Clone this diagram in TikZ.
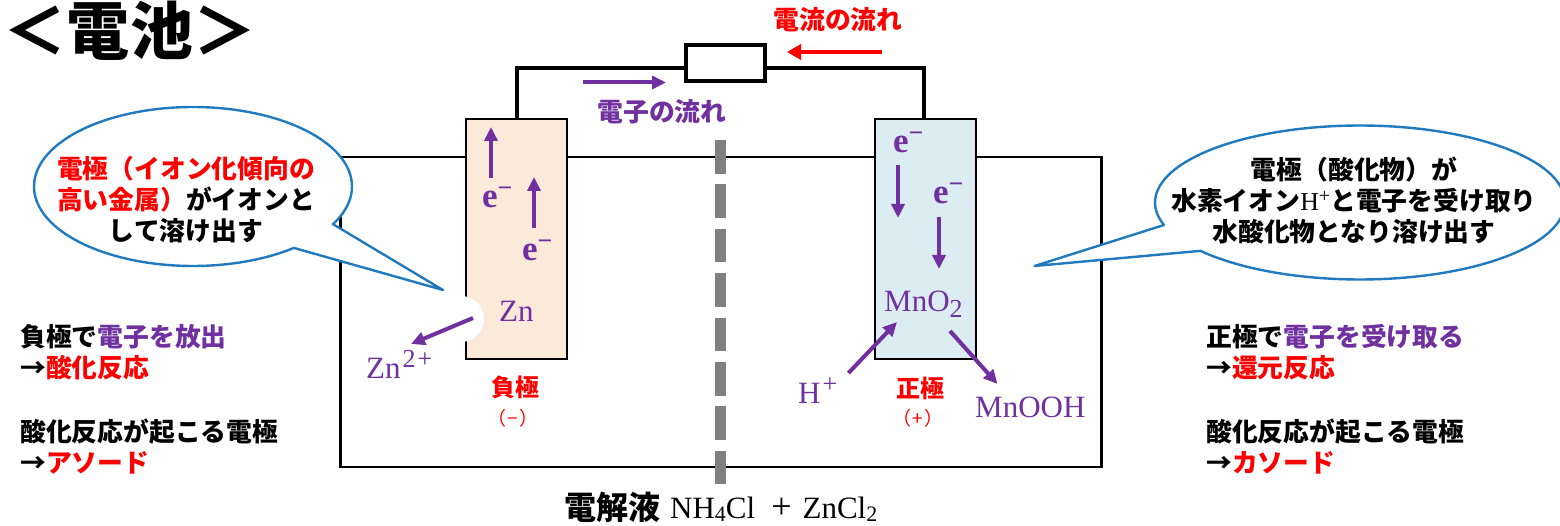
\documentclass[tikz,border=0pt]{standalone}
\usepackage{fontspec}
\setmainfont{Noto Sans CJK JP}
\newfontfamily\ser{Liberation Serif}
\usetikzlibrary{arrows.meta}
\definecolor{purp}{HTML}{7030A0}
\definecolor{callout}{HTML}{1F7ABF}
\definecolor{negfill}{HTML}{FBE9DA}
\definecolor{posfill}{HTML}{DBEDF3}
\definecolor{sep}{HTML}{808080}
\newcommand\up[3][26]{\raisebox{#2pt}{\fontsize{#1}{#1}\selectfont #3}}
\tikzset{
  x=1pt,y=-1pt,
  body/.style={font=\bfseries\fontsize{25.8}{31}\selectfont,inner sep=0pt,align=center},
  side/.style={font=\bfseries\fontsize{25.8}{31}\selectfont,inner sep=0pt,align=left,anchor=west},
  chem/.style={font=\ser\fontsize{31}{31}\selectfont,text=purp,inner sep=0pt,anchor=base west},
  elec/.style={font=\ser\bfseries\fontsize{35}{35}\selectfont,text=purp,inner sep=0pt,anchor=base west},
  electrode/.style={draw=black,line width=2.4pt,minimum width=101pt,minimum height=240pt,inner sep=0pt},
  purarrow/.style={draw=purp,line width=3.5pt,-{Triangle[length=14pt,width=13pt]}},
  bubble/.style={draw=callout,fill=white,line width=2.4pt,line join=round},
  pole/.style={font=\fontsize{24}{24}\selectfont\bfseries,text=red,inner sep=0pt},
  polesign/.style={font=\fontsize{19}{19}\selectfont,text=red,inner sep=0pt},
}
\begin{document}
\begin{tikzpicture}
\clip (0,0) rectangle (1560,526);
% bath
\node[draw=black,line width=2.4pt,minimum width=761pt,minimum height=310pt,inner sep=0pt] (bath) at (721,312) {};
% separator
\coordinate (septop) at (720.5,140);
\coordinate (sepbot) at (720.5,485);
\draw[sep,line width=11pt,dash pattern=on 33.6pt off 10.8pt] (septop) -- (sepbot);
% electrodes
\node[electrode,fill=negfill] (neg) at (516.5,239) {};
\node[electrode,fill=posfill] (pos) at (925.5,239) {};
\fill[white] (461,319) circle (23);
% resistor and wire
\node[draw=black,fill=white,line width=4pt,minimum width=79pt,minimum height=36pt,inner sep=0pt] (res) at (725.5,63.5) {};
\draw[line width=4pt] (neg.north) |- ([yshift=-4.5pt]res.west);
\draw[line width=4pt] ([xshift=-1.5pt]pos.north) |- ([yshift=-4.5pt]res.east);
% callouts
\coordinate (tipL) at (443,290);
\coordinate (tipR) at (1034.5,266);
\draw[bubble] (tipL) -- plot[domain=28.3:-309.4,samples=140,smooth] ({193+159*cos(\x)},{186.5+79.5*sin(\x)}) -- cycle;
\draw[bubble] (tipR) -- plot[domain=163:501.1,samples=140,smooth] ({1360+205*cos(\x)},{202.5+77*sin(\x)}) -- cycle;
\node[body] (cl) at (186,199.5) {\textcolor{red}{電極（イオン化傾向の}\\\textcolor{red}{高い金属）}がイオンと\\して溶け出す};
\node[body] (cr) at (1354,200.5) {電極（酸化物）が\\水素イオン{\ser\mdseries H\raisebox{8pt}{\fontsize{20}{20}\selectfont +}}と電子を受け取り\\水酸化物となり溶け出す};
% flow labels
\node[body,text=red] (lcur) at (838,20) {電流の流れ};
\node[body,text=purp] (lel) at (662,112) {電子の流れ};
\coordinate (curA) at (882,52);
\coordinate (curB) at (787,52);
\draw[draw=red,line width=4.5pt,-{Triangle[length=14pt,width=15pt]}] (curA) -- (curB);
\coordinate (elA) at (583,82.5);
\coordinate (elB) at (666,82.5);
\draw[purarrow,line width=4pt] (elA) -- (elB);
% electrons
\node[elec] (e1) at (482,208) {e\up{11}{\ser\bfseries −}};
\node[elec] (e2) at (522,261) {e\up{11}{\ser\bfseries −}};
\node[elec] (e3) at (893,153) {e\up{11}{\ser\bfseries −}};
\node[elec] (e4) at (933,204) {e\up{11}{\ser\bfseries −}};
\coordinate (a1) at (491,178); \coordinate (b1) at (491,127);
\coordinate (a2) at (534,228); \coordinate (b2) at (534,177);
\coordinate (a3) at (898,165); \coordinate (b3) at (898,218);
\coordinate (a4) at (939,217); \coordinate (b4) at (939,269);
\draw[purarrow] (a1) -- (b1);
\draw[purarrow] (a2) -- (b2);
\draw[purarrow] (a3) -- (b3);
\draw[purarrow] (a4) -- (b4);
% chemistry
\node[chem] (zn) at (499,322) {Zn};
\node[chem] (znion) at (366,378) {Zn\hspace{2pt}\up{11}{\ser 2\hspace{2pt}+}};
\node[chem] (mno) at (884,312) {MnO\up{-6}{\ser 2}};
\node[chem] (hion) at (798,403) {H\hspace{2pt}\up{11}{\ser +}};
\node[chem] (mnooh) at (975,417) {MnOOH};
\coordinate (zA) at (473,318); \coordinate (zB) at (411,344);
\coordinate (hA) at (848.5,373); \coordinate (hB) at (897,322);
\coordinate (mA) at (950,331); \coordinate (mB) at (997.5,384);
\draw[purarrow,line width=4pt] (zA) -- (zB);
\draw[purarrow,line width=4pt] (hA) -- (hB);
\draw[purarrow,line width=4pt] (mA) -- (mB);
% poles
\node[pole] (pn) at (515,387) {負極};
\node[polesign] (pns) at (513,418) {（\hspace{1pt}−\hspace{1pt}）};
\node[pole] (pp) at (920,388) {正極};
\node[polesign] (pps) at (918,418) {（\hspace{1pt}+\hspace{1pt}）};
% side notes
\node[side] (n1) at (20,352.5) {負極で\textcolor{purp}{電子を放出}\\→\textcolor{red}{酸化反応}};
\node[side] (n2) at (20,447) {酸化反応が起こる電極\\→\textcolor{red}{アソード}};
\node[side] (n3) at (1206,352.5) {正極で\textcolor{purp}{電子を受け取る}\\→\textcolor{red}{還元反応}};
\node[side] (n4) at (1206,447) {酸化反応が起こる電極\\→\textcolor{red}{カソード}};
% electrolyte
\node[font=\bfseries\fontsize{32}{32}\selectfont,inner sep=0pt] (ely) at (612,507) {電解液};
\node[font=\ser\fontsize{31}{31}\selectfont,inner sep=0pt,anchor=base west] (elf) at (670,518.5) {NH\up[22]{-3}{\ser 4}Cl\hspace{16pt}{\fontsize{36}{36}\selectfont +}\hspace{11pt}ZnCl\up[22]{-3}{\ser 2}};
% title
\node[font=\fontsize{63}{63}\selectfont\bfseries,inner sep=0pt] (title) at (130,31) {＜電池＞};
\end{tikzpicture}
\end{document}
